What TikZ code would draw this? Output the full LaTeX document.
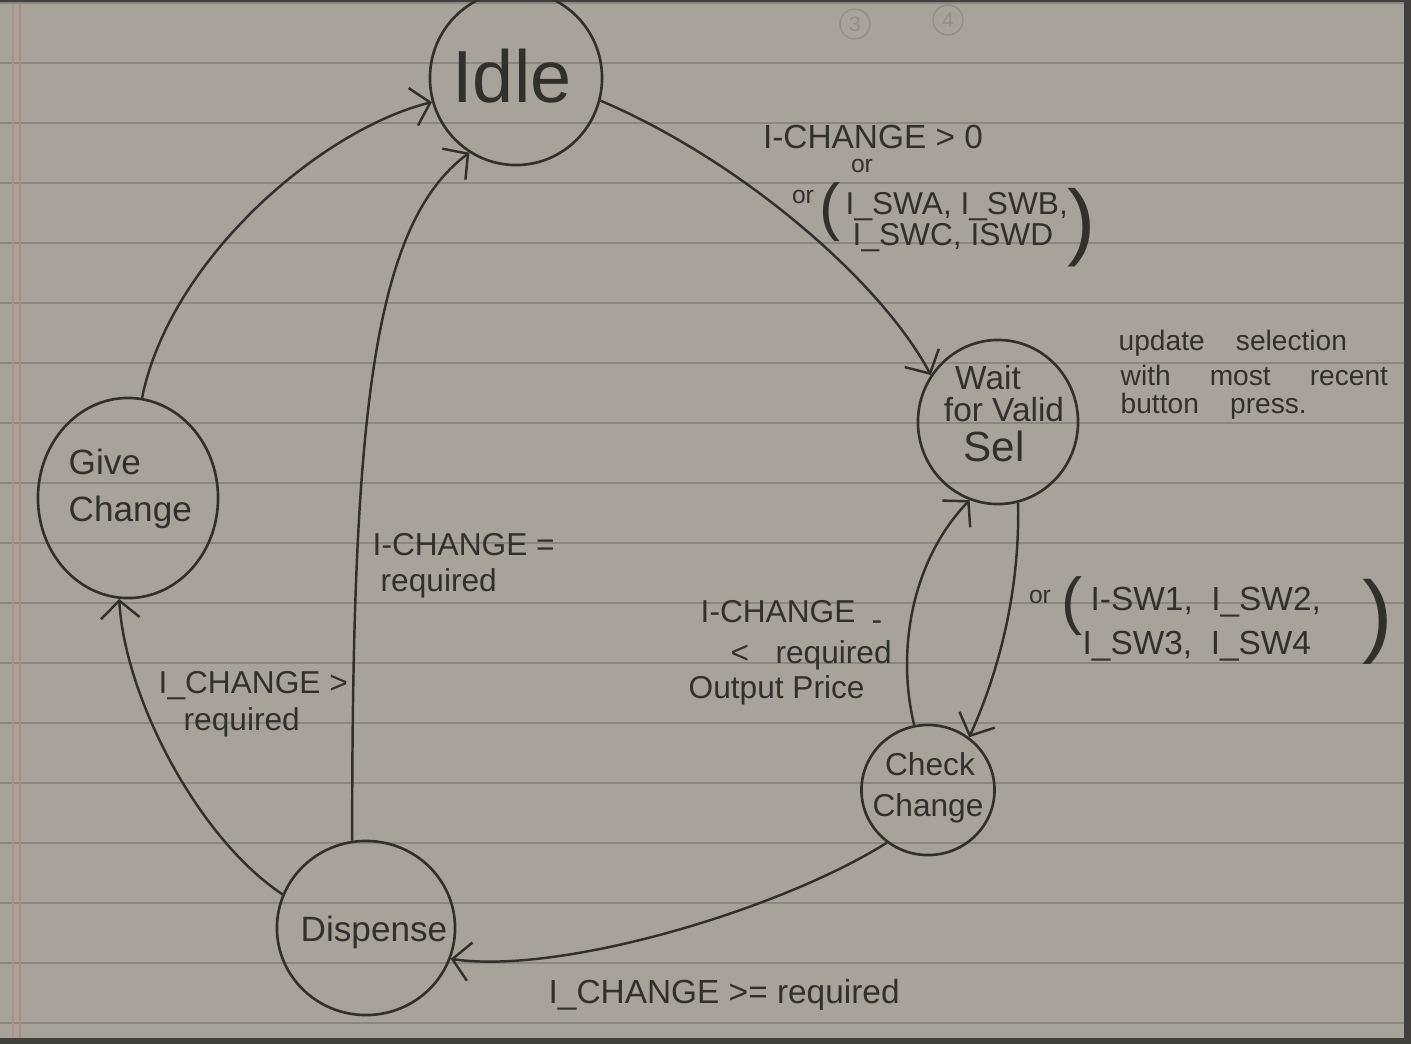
\documentclass[tikz,border=0pt]{standalone}
\usepackage{fontspec}
\setmainfont{Liberation Sans}
\usetikzlibrary{arrows.meta,shapes.geometric}
\definecolor{paper}{RGB}{168,163,154}
\definecolor{rulec}{RGB}{138,134,128}
\definecolor{ink}{RGB}{50,48,45}
\definecolor{framec}{RGB}{66,64,62}
\definecolor{marginc}{RGB}{178,138,130}
\definecolor{ghost}{RGB}{146,142,135}
\tikzset{
  state/.style={draw=ink, line width=0.75pt, ellipse, inner sep=0pt},
  conn/.style={draw=ink, line width=0.7pt, -{Straight Barb[length=5pt,width=11pt,line width=0.7pt]}},
  lbl/.style={font=\fontsize{9}{11}\selectfont, text=ink, inner sep=0pt},
  small/.style={font=\fontsize{7}{8}\selectfont, text=ink, inner sep=0pt},
  paren/.style={font=\fontsize{18}{20}\selectfont, text=ink, inner sep=0pt},
  stxt/.style={font=\fontsize{10}{12}\selectfont, text=ink, inner sep=0pt},
}
\begin{document}
\begin{tikzpicture}[x=0.01cm,y=-0.01cm]
\useasboundingbox (0,0) rectangle (1411,1044);
\clip (0,0) rectangle (1411,1044);
% paper and frame
\fill[framec] (0,0) rectangle (1411,1044);
\fill[paper] (0,4) rectangle (1404,1038);
\foreach \k in {0,...,17} { \draw[rulec, line width=0.5pt] (0,{3+60*\k}) -- (1404,{3+60*\k}); }
\draw[marginc, line width=0.8pt] (20,4) -- (20,1038);
\draw[marginc!70!paper, line width=0.6pt] (13,4) -- (13,1038);
% faint marks from the back of the sheet
\node[draw=ghost, circle, minimum size=0.3cm, inner sep=0pt, text=ghost, font=\fontsize{6}{7}\selectfont] (g3) at (855,24) {3};
\node[draw=ghost, circle, minimum size=0.3cm, inner sep=0pt, text=ghost, font=\fontsize{6}{7}\selectfont] (g4) at (948,20) {4};

% states
\node[state, minimum width=1.72cm, minimum height=1.74cm] (idle) at (516,78) {};
\node[state, minimum width=1.60cm, minimum height=1.64cm] (wait) at (998,422) {};
\node[state, minimum width=1.80cm, minimum height=2.00cm] (give) at (128,498) {};
\node[state, minimum width=1.33cm, minimum height=1.30cm] (check) at (928,790) {};
\node[state, minimum width=1.78cm, minimum height=1.74cm] (disp) at (366,928) {};

% state texts
\node[stxt, font=\fontsize{21}{24}\selectfont] (tidle) at (512,76) {Idle};
\node[stxt, font=\fontsize{9.5}{11}\selectfont] (tw1) at (988,378) {Wait};
\node[stxt, font=\fontsize{9.5}{11}\selectfont] (tw2) at (1004,410) {for Valid};
\node[stxt, font=\fontsize{12}{14}\selectfont] (tw3) at (994,446) {Sel};
\node[stxt, anchor=west] (tg1) at (68,462) {Give};
\node[stxt, anchor=west] (tg2) at (68,512) {Change};
\node[stxt, font=\fontsize{9}{11}\selectfont] (tc1) at (930,764) {Check};
\node[stxt, font=\fontsize{9}{11}\selectfont] (tc2) at (928,808) {Change};
\node[stxt, font=\fontsize{10}{12}\selectfont] (td) at (374,932) {Dispense};

% connectors
\draw[conn] (idle.-15) .. controls (740,160) and (880,280) .. (wait.145);
\draw[conn] (wait.-76) .. controls (1020,600) and (995,680) .. (check.52);
\draw[conn] (check.102) .. controls (896,650) and (912,560) .. (wait.-110);
\draw[conn] (check.-128) .. controls (780,910) and (560,975) .. (disp.-20);
\draw[conn] (disp.99) .. controls (352,420) and (372,225) .. (idle.-122);
\draw[conn] (disp.158) .. controls (200,840) and (125,700) .. (give.-95);
\draw[conn] (give.82) .. controls (170,260) and (320,130) .. (idle.-164);

% labels Idle -> Wait
\node[lbl, font=\fontsize{9.5}{11}\selectfont] (l1a) at (873,137) {I-CHANGE > 0};
\node[small] (l1b) at (862,166) {or};
\node[small] (l1c) at (803,197) {or};
\node[paren] (l1d) at (830,212) {(};
\node[lbl, anchor=west] (l1e) at (845,207) {I\_SWA, I\_SWB,};
\node[lbl, anchor=west] (l1f) at (852,238) {I\_SWC, ISWD};
\node[paren, font=\fontsize{24}{26}\selectfont] (l1g) at (1082,228) {)};

% note at Wait
\node[small, font=\fontsize{8}{9}\selectfont, anchor=west] (n1) at (1118,343) {update\ \ \ \ selection};
\node[small, font=\fontsize{8}{9}\selectfont, anchor=west] (n2) at (1120,375) {with\ \ \ \ \ most\ \ \ \ \ recent};
\node[small, font=\fontsize{8}{9}\selectfont, anchor=west] (n3) at (1120,406) {button\ \ \ \ press.};

% labels Wait -> Check
\node[small] (l2a) at (1040,597) {or};
\node[paren] (l2b) at (1072,606) {(};
\node[lbl, font=\fontsize{9.5}{11}\selectfont, anchor=west] (l2c) at (1090,602) {I-SW1,\ \ I\_SW2,};
\node[lbl, font=\fontsize{9.5}{11}\selectfont, anchor=west] (l2d) at (1082,646) {I\_SW3,\ \ I\_SW4};
\node[paren, font=\fontsize{26}{28}\selectfont] (l2e) at (1378,622) {)};

% labels Check -> Wait
\node[lbl, anchor=west] (l3a) at (700,612) {I-CHANGE};
\node[lbl] (l3b) at (877,626) {-};
\node[lbl, anchor=west] (l3c) at (730,655) {<\ \ \ required};
\node[lbl, anchor=west] (l3d) at (688,690) {Output\ Price};

% labels Check -> Dispense
\node[lbl, font=\fontsize{9.5}{11}\selectfont, anchor=west] (l4) at (548,995) {I\_CHANGE >= required};

% labels Dispense -> Idle
\node[lbl, anchor=west] (l5a) at (372,545) {I-CHANGE =};
\node[lbl, anchor=west] (l5b) at (380,583) {required};

% labels Dispense -> Give
\node[lbl, anchor=west] (l6a) at (158,686) {I\_CHANGE >};
\node[lbl, anchor=west] (l6b) at (183,722) {required};
\end{tikzpicture}
\end{document}
